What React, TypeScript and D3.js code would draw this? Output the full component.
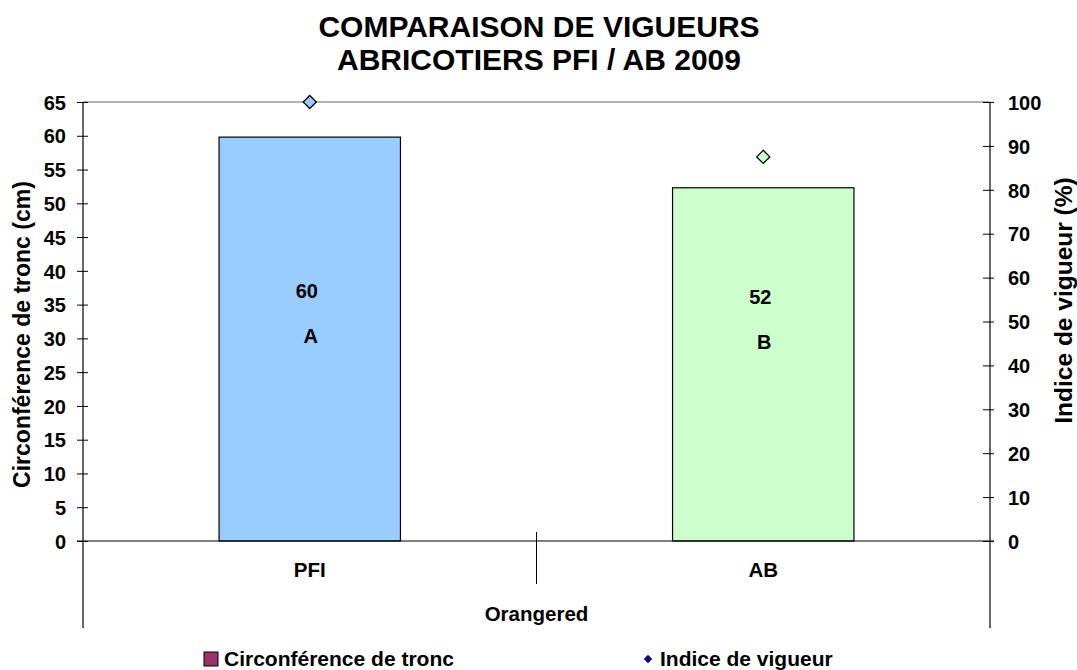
import React, { useEffect, useRef } from 'react';
import * as d3 from 'd3';

// data
const categories = ['PFI', 'AB'];
const circonference = [59.8, 52.3]; // cm, left axis
const indiceVigueur = [100, 87.5]; // %, right axis
const valueLabels = ['60', '52'];
const groupLabels = ['A', 'B'];
const barColors = ['#99CCFF', '#CCFFCC'];
const leftTicks = d3.range(0, 70, 5);
const rightTicks = d3.range(0, 110, 10);

const W = 1077;
const H = 670;
const FONT = '"Liberation Sans", Arial, sans-serif';

const App = () => {
  const ref = useRef<SVGSVGElement>(null);

  useEffect(() => {
    const svg = d3.select(ref.current);
    svg.selectAll('*').remove();

    const left = 83;
    const right = 990;
    const top = 102;
    const bottom = 541;

    const x = d3.scaleBand().domain(categories).range([left, right]);
    const yL = d3.scaleLinear().domain([0, 65]).range([bottom, top]);
    const yR = d3.scaleLinear().domain([0, 100]).range([bottom, top]);
    const barW = x.bandwidth() * 0.4;

    // title
    const title = svg
      .append('text')
      .attr('text-anchor', 'middle')
      .attr('font-family', FONT)
      .attr('font-weight', 'bold')
      .attr('font-size', 30);
    title.append('tspan').attr('x', 539).attr('y', 37).text('COMPARAISON DE VIGUEURS');
    title.append('tspan').attr('x', 539).attr('y', 70).text('ABRICOTIERS PFI / AB 2009');

    // top border of plot area
    svg
      .append('line')
      .attr('x1', left)
      .attr('x2', right)
      .attr('y1', top)
      .attr('y2', top)
      .attr('stroke', '#999')
      .attr('stroke-width', 1.5);

    // bars
    svg
      .selectAll('rect.bar')
      .data(categories)
      .enter()
      .append('rect')
      .attr('class', 'bar')
      .attr('x', (d) => x(d)! + x.bandwidth() / 2 - barW / 2)
      .attr('y', (d, i) => yL(circonference[i]))
      .attr('width', barW)
      .attr('height', (d, i) => bottom - yL(circonference[i]))
      .attr('fill', (d, i) => barColors[i])
      .attr('stroke', '#000')
      .attr('stroke-width', 1.2);

    // data labels inside bars
    const lift = [37, 36.1];
    categories.forEach((c, i) => {
      const cx = x(c)! + x.bandwidth() / 2;
      const yy = yL(lift[i]);
      svg
        .append('text')
        .attr('x', cx - 3)
        .attr('y', yy + 7)
        .attr('text-anchor', 'middle')
        .attr('font-family', FONT)
        .attr('font-weight', 'bold')
        .attr('font-size', 20)
        .text(valueLabels[i]);
      svg
        .append('text')
        .attr('x', cx + 1)
        .attr('y', yy + 52)
        .attr('text-anchor', 'middle')
        .attr('font-family', FONT)
        .attr('font-weight', 'bold')
        .attr('font-size', 20)
        .text(groupLabels[i]);
    });

    // diamonds
    const diamond = d3.symbol().type(d3.symbolDiamond2).size(110);
    svg
      .selectAll('path.dot')
      .data(categories)
      .enter()
      .append('path')
      .attr('class', 'dot')
      .attr('d', diamond)
      .attr('transform', (d, i) => `translate(${x(d)! + x.bandwidth() / 2},${yR(indiceVigueur[i])})`)
      .attr('fill', (d, i) => barColors[i])
      .attr('stroke', '#000')
      .attr('stroke-width', 1.3);

    // left axis
    const gl = svg
      .append('g')
      .attr('transform', `translate(${left},0)`)
      .call(d3.axisLeft(yL).tickValues(leftTicks).tickSize(6).tickPadding(11));
    gl.select('.domain').remove();
    gl.selectAll('.tick line').attr('x2', -6).attr('x1', 5).attr('stroke', '#000');
    gl.selectAll('.tick text')
      .attr('font-family', FONT)
      .attr('font-weight', 'bold')
      .attr('font-size', 20)
      .attr('fill', '#000')
      .attr('dy', '0.36em');

    // right axis
    const gr = svg
      .append('g')
      .attr('transform', `translate(${right},0)`)
      .call(d3.axisRight(yR).tickValues(rightTicks).tickSize(4).tickPadding(14));
    gr.select('.domain').remove();
    gr.selectAll('.tick line').attr('x1', -7).attr('x2', 4).attr('stroke', '#000');
    gr.selectAll('.tick text')
      .attr('font-family', FONT)
      .attr('font-weight', 'bold')
      .attr('font-size', 20)
      .attr('fill', '#000')
      .attr('dy', '0.36em');

    // vertical axis lines (extend down through the category area)
    [left, right].forEach((xx) => {
      svg
        .append('line')
        .attr('x1', xx)
        .attr('x2', xx)
        .attr('y1', top)
        .attr('y2', 628)
        .attr('stroke', '#000')
        .attr('stroke-width', 1.2);
    });

    // x axis
    svg
      .append('line')
      .attr('x1', left - 6)
      .attr('x2', right + 4)
      .attr('y1', bottom)
      .attr('y2', bottom)
      .attr('stroke', '#000')
      .attr('stroke-width', 1.2);
    const mid = x(categories[1])!;
    svg
      .append('line')
      .attr('x1', mid)
      .attr('x2', mid)
      .attr('y1', bottom - 9)
      .attr('y2', 584)
      .attr('stroke', '#000')
      .attr('stroke-width', 1);

    svg
      .selectAll('text.cat')
      .data(categories)
      .enter()
      .append('text')
      .attr('class', 'cat')
      .attr('x', (d) => x(d)! + x.bandwidth() / 2)
      .attr('y', 577)
      .attr('text-anchor', 'middle')
      .attr('font-family', FONT)
      .attr('font-weight', 'bold')
      .attr('font-size', 20.5)
      .text((d) => d);

    svg
      .append('text')
      .attr('x', (left + right) / 2)
      .attr('y', 621)
      .attr('text-anchor', 'middle')
      .attr('font-family', FONT)
      .attr('font-weight', 'bold')
      .attr('font-size', 20.5)
      .text('Orangered');

    // axis titles
    svg
      .append('text')
      .attr('transform', `translate(30,${(top + bottom) / 2 + 13}) rotate(-90)`)
      .attr('text-anchor', 'middle')
      .attr('font-family', FONT)
      .attr('font-weight', 'bold')
      .attr('font-size', 23)
      .text('Circonférence de tronc (cm)');
    svg
      .append('text')
      .attr('transform', `translate(1072,${(top + bottom) / 2 - 21}) rotate(-90)`)
      .attr('text-anchor', 'middle')
      .attr('font-family', FONT)
      .attr('font-weight', 'bold')
      .attr('font-size', 24.5)
      .text('Indice de vigueur (%)');

    // legend
    svg
      .append('rect')
      .attr('x', 204)
      .attr('y', 652)
      .attr('width', 14)
      .attr('height', 14)
      .attr('fill', '#993366')
      .attr('stroke', '#000')
      .attr('stroke-width', 1);
    svg
      .append('text')
      .attr('x', 224)
      .attr('y', 666)
      .attr('font-family', FONT)
      .attr('font-weight', 'bold')
      .attr('font-size', 21)
      .text('Circonférence de tronc');
    svg
      .append('path')
      .attr('d', d3.symbol().type(d3.symbolDiamond2).size(45)())
      .attr('transform', 'translate(648,659)')
      .attr('fill', '#000080');
    svg
      .append('text')
      .attr('x', 660)
      .attr('y', 666)
      .attr('font-family', FONT)
      .attr('font-weight', 'bold')
      .attr('font-size', 21)
      .text('Indice de vigueur');
  }, []);

  return (
    <div style={{ position: 'fixed', left: 0, top: 0, width: W, height: H, overflow: 'hidden' }}>
      <svg ref={ref} width={W} height={H} style={{ display: 'block', background: '#fff' }} />
    </div>
  );
};

export default App;
